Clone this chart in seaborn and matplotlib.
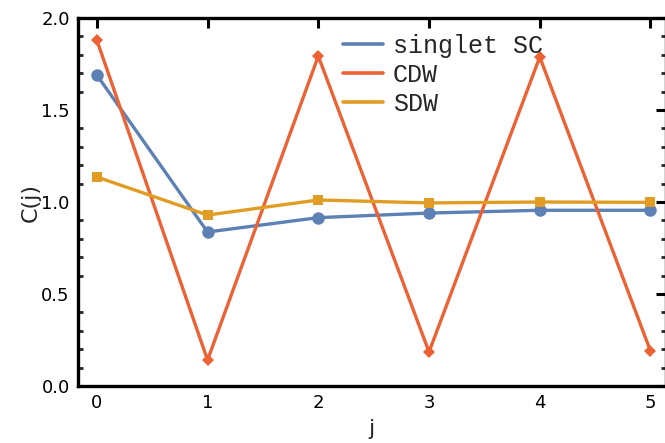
import numpy as np
import pandas as pd
import matplotlib
matplotlib.use("Agg")
import matplotlib.pyplot as plt
from matplotlib.lines import Line2D
from matplotlib.ticker import MultipleLocator, FormatStrFormatter
import seaborn as sns

# correlation functions vs. site distance j
j = [0, 1, 2, 3, 4, 5]
singlet_sc = [1.69, 0.837, 0.915, 0.94, 0.955, 0.955]
cdw = [1.88, 0.141, 1.793, 0.185, 1.788, 0.19]
sdw = [1.136, 0.929, 1.011, 0.995, 1.0, 0.998]

names = ["singlet SC", "CDW", "SDW"]
colors = {"singlet SC": "#5E81B5", "CDW": "#EB6235", "SDW": "#E19C24"}
marks = {"singlet SC": "o", "CDW": "D", "SDW": "s"}
msize = {"singlet SC": 9, "CDW": 6.5, "SDW": 6.5}

df = pd.concat([
    pd.DataFrame({"j": j, "C": singlet_sc, "corr": "singlet SC"}),
    pd.DataFrame({"j": j, "C": cdw, "corr": "CDW"}),
    pd.DataFrame({"j": j, "C": sdw, "corr": "SDW"}),
], ignore_index=True)

sns.set_style("white")
plt.rcParams["font.family"] = ["DejaVu Sans"]

fig = plt.figure(figsize=(6.65, 4.43), dpi=100)
ax = fig.add_axes([78 / 665, 57 / 443, 588 / 665, 368 / 443])

for name in names:
    sub = df[df["corr"] == name]
    sns.lineplot(data=sub, x="j", y="C", color=colors[name], marker=marks[name],
                 markersize=msize[name], markeredgewidth=0, linewidth=2.4,
                 ax=ax, legend=False)

ax.set_xlim(-0.17, 5.14)
ax.set_ylim(0, 2.0)
ax.set_xticks(j)
ax.yaxis.set_major_locator(MultipleLocator(0.5))
ax.yaxis.set_minor_locator(MultipleLocator(0.1))
ax.yaxis.set_major_formatter(FormatStrFormatter("%.1f"))

for s in ax.spines.values():
    s.set_linewidth(2.4)
    s.set_color("black")

ax.tick_params(which="major", direction="in", length=7, width=2.2,
               top=True, right=True, labelsize=13, pad=6, colors="black")
ax.tick_params(which="minor", direction="in", length=3.4, width=2.0,
               left=True, right=True, bottom=False, top=False)

ax.set_xlabel("j", fontsize=16, labelpad=5)
ax.set_ylabel("C(j)", fontsize=16, labelpad=0)

handles = [Line2D([0], [0], color=colors[n], linewidth=2.6) for n in names]
ax.legend(handles, names, loc="upper left",
          bbox_to_anchor=(343 / 665, 1 - 34 / 443), bbox_transform=fig.transFigure,
          frameon=False, borderpad=0, borderaxespad=0, handlelength=1.6,
          handletextpad=0.4, labelspacing=0.2,
          prop={"family": "Liberation Mono", "size": 18})

fig.savefig("out.png", dpi=100)
